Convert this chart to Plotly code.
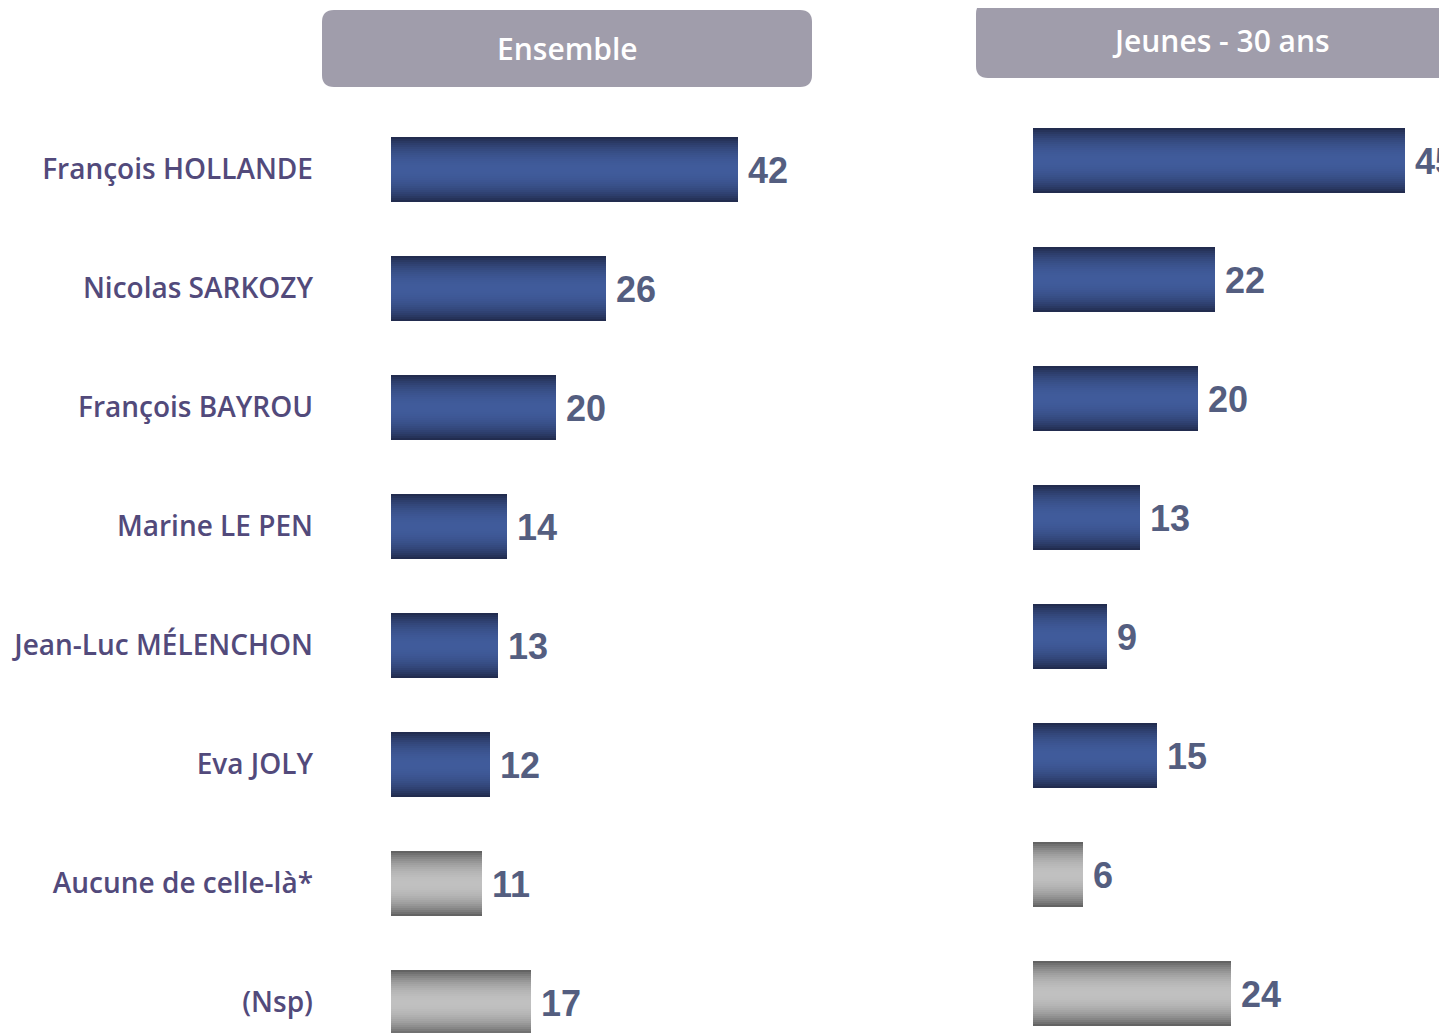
import math

import plotly.graph_objects as go

# Data
candidates = [
    "François HOLLANDE",
    "Nicolas SARKOZY",
    "François BAYROU",
    "Marine LE PEN",
    "Jean-Luc MÉLENCHON",
    "Eva JOLY",
    "Aucune de celle-là*",
    "(Nsp)",
]
ensemble = [42, 26, 20, 14, 13, 12, 11, 17]
jeunes = [45, 22, 20, 13, 9, 15, 6, 24]
is_grey = [False, False, False, False, False, False, True, True]

# the page puts the plot 8px in from the top-left corner
OFF = 8
W, H = 1447 - OFF, 1033 - OFF
PX_PER_UNIT = 8.26
BAR_W = 0.546
N_SLICES = 32

LABEL_COLOR = "#524a7b"
VALUE_COLOR = "#545e80"
HEADER_COLOR = "#a09dab"


def mix(c1, c2, s):
    r = [round(a + (b - a) * s) for a, b in zip(c1, c2)]
    return f"rgb({r[0]},{r[1]},{r[2]})"


def shade(grey, t):
    s = math.sin(math.pi * t) ** 0.75
    if grey:
        return mix((88, 88, 88), (192, 192, 192), s)
    return mix((30, 39, 70), (64, 91, 155), s)


fig = go.Figure()


def add_panel(values, xa, ya):
    for k in range(N_SLICES):
        t = (k + 0.5) / N_SLICES
        step = BAR_W / N_SLICES
        fig.add_trace(go.Bar(
            x=values, y=candidates, orientation="h",
            offset=-BAR_W / 2 + k * step,
            width=step * (1.6 if k < N_SLICES - 1 else 1.0),
            marker=dict(color=[shade(g, t) for g in is_grey], line=dict(width=0)),
            xaxis=xa, yaxis=ya, showlegend=False, hoverinfo="skip",
        ))
    for v, c in zip(values, candidates):
        fig.add_annotation(
            x=v, y=c, xref=xa, yref=ya, text=str(v), showarrow=False,
            xanchor="left", yanchor="middle", xshift=8, yshift=-1,
            font=dict(family="Liberation Sans", size=36, color=VALUE_COLOR, weight="bold"),
        )


add_panel(ensemble, "x", "y")
add_panel(jeunes, "x2", "y2")


def rounded_box(x0, y0, x1, y1, r):
    # reference pixel coords -> paper coords
    px = lambda x: (x - OFF) / W
    py = lambda y: 1 - (y - OFF) / H
    return (
        f"M {px(x0 + r)},{py(y0)} L {px(x1 - r)},{py(y0)} "
        f"Q {px(x1)},{py(y0)} {px(x1)},{py(y0 + r)} "
        f"L {px(x1)},{py(y1 - r)} Q {px(x1)},{py(y1)} {px(x1 - r)},{py(y1)} "
        f"L {px(x0 + r)},{py(y1)} Q {px(x0)},{py(y1)} {px(x0)},{py(y1 - r)} "
        f"L {px(x0)},{py(y0 + r)} Q {px(x0)},{py(y0)} {px(x0 + r)},{py(y0)} Z"
    )


headers = [("Ensemble", 322, 10, 812, 87), ("Jeunes - 30 ans", 976, 2, 1466, 78)]
for text, x0, y0, x1, y1 in headers:
    fig.add_shape(type="path", xref="paper", yref="paper",
                  path=rounded_box(x0, y0, x1, y1, 12),
                  fillcolor=HEADER_COLOR, line=dict(width=0), layer="below")
    fig.add_annotation(
        x=((x0 + x1) / 2 - OFF) / W, y=1 - ((y0 + y1) / 2 - OFF) / H,
        xref="paper", yref="paper",
        text=text, showarrow=False, xanchor="center", yanchor="middle",
        font=dict(family="Open Sans", size=30, color="white", weight=600),
    )

left_dom = [(391 - OFF) / W, (900 - OFF) / W]
right_dom = [(1033 - OFF) / W, 1.0]

fig.update_layout(
    width=W, height=H,
    margin=dict(l=0, r=0, t=0, b=0),
    paper_bgcolor="white", plot_bgcolor="white",
    barmode="overlay", bargap=0,
    xaxis=dict(domain=left_dom, range=[0, (900 - 391) / PX_PER_UNIT], visible=False),
    xaxis2=dict(domain=right_dom, range=[0, (1447 - 1033) / PX_PER_UNIT], visible=False),
    yaxis=dict(
        domain=[0, 1], anchor="x", type="category",
        categoryorder="array", categoryarray=candidates,
        range=[-(169.5 - OFF) / 119 + H / 119, -(169.5 - OFF) / 119],
        showgrid=False, zeroline=False, showline=False, ticks="",
        ticklabelstandoff=77,
        tickfont=dict(family="Open Sans", size=28, color=LABEL_COLOR, weight=600),
    ),
    yaxis2=dict(
        domain=[0, 1], anchor="x2", type="category",
        categoryorder="array", categoryarray=candidates,
        range=[-(160.5 - OFF) / 119 + H / 119, -(160.5 - OFF) / 119],
        showgrid=False, zeroline=False, showline=False, showticklabels=False,
    ),
)

fig.write_html("out.html")
